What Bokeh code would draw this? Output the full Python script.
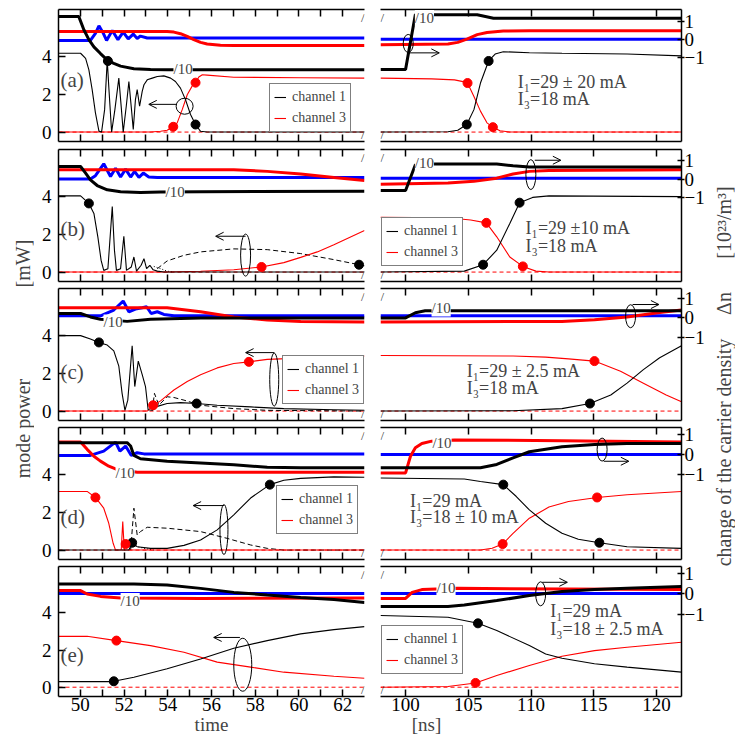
import math
from bokeh.plotting import figure
from bokeh.models import (Range1d, LinearAxis, FixedTicker, Label, Legend, LegendItem,
                          Arrow, OpenHead, CustomJSTickFormatter)
from bokeh.layouts import row, column
from bokeh.embed import file_html
from bokeh.resources import INLINE

FONT = "Liberation Serif"
BLACK, RED, BLUE = "#000000", "#ff0000", "#0000ff"

# ---------------- data (time [ns], value) ----------------
# ch1 / ch3: mode power [mW] (left axis); n1/n2/n3: carrier density change (right axis)
A_L_CH1 = [(49,4.18),(50.01,4.18),(50.24,3.91),(50.39,3.3),(50.54,2.25),(50.69,1.02),(50.85,0.05),(50.97,0),
           (51.11,1.19),(51.23,3.82),(51.30,2.42),(51.43,0),(51.58,1.19),(51.76,2.86),(51.88,1.19),(51.96,0),
           (52.10,1.37),(52.22,2.68),(52.34,1.19),(52.42,0.14),(52.52,1.72),(52.60,2.25),(52.71,1.37),(52.83,2.16),
           (52.91,2.51),(53.06,2.77),(53.29,2.86),(53.52,2.95),(53.82,2.98),(54.13,2.86),(54.35,2.68),(54.58,2.33),
           (54.81,1.72),(55.04,0.93),(55.27,0.40),(55.50,0.04),(55.80,0),(63,0)]
A_L_CH3 = [(49,0),(53.21,0),(53.67,0.04),(53.97,0.1),(54.25,0.28),(54.43,0.49),(54.66,1.19),(54.89,1.98),
           (55.12,2.45),(55.27,2.62),(55.42,2.92),(55.58,3.04),(55.80,3.02),(57.02,2.91),(60.08,2.88),(63,2.86)]
A_L_DOT1 = [(51.26,3.77),(55.27,0.40)]
A_L_DOT3 = [(54.25,0.28),(55.27,2.62)]
A_L_N1 = [(49,1.28),(49.93,1.28),(50.16,0.55),(50.39,0.0),(50.62,-0.40),(50.92,-0.77),(51.26,-1.16),(51.53,-1.32),
          (51.84,-1.47),(52.45,-1.61),(53.21,-1.65),(53.97,-1.67),(63,-1.67)]
A_L_N2 = [(49,-0.04),(50.46,-0.04),(50.69,0.35),(50.85,0.77),(51.03,0.4),(51.20,-0.04),(51.46,0.51),(51.72,0.0),
          (51.96,0.42),(52.19,0.04),(52.42,0.31),(52.60,0.07),(52.75,0.2),(53.06,0.09),(63,0.09)]
A_L_N3 = [(49,0.46),(53.97,0.46),(54.28,0.42),(54.58,0.33),(54.89,0.18),(55.19,0.0),(55.50,-0.15),(55.80,-0.24),
          (56.41,-0.31),(57.02,-0.33),(63,-0.33)]

A_R_CH1 = [(98,0),(103.38,0.02),(104.16,0.1),(104.88,0.4),(105.45,1.19),(105.97,2.6),(106.62,3.77),(107.14,4.14),
           (107.79,4.26),(109.87,4.21),(112.47,4.18),(117.66,4.14),(122,4.04)]
A_R_CH3 = [(98,2.86),(102.08,2.82),(103.90,2.77),(104.68,2.66),(104.94,2.6),(105.45,1.89),(105.97,1.11),
           (106.49,0.49),(106.96,0.26),(107.53,0.07),(108.31,0),(122,0)]
A_R_DOT1 = [(104.88,0.4),(106.62,3.77)]
A_R_DOT3 = [(104.94,2.6),(106.96,0.26)]
A_R_N1 = [(98,-1.65),(100,-1.65),(100.78,1.4),(102.47,1.38),(105.71,1.38),(107.01,1.19),(122,1.19)]
A_R_N2 = [(98,0.02),(122,0.02)]
A_R_N3 = [(98,-0.28),(103.38,-0.24),(104.16,-0.15),(104.94,0.04),(105.71,0.28),(106.49,0.40),(107.79,0.48),
          (109.87,0.5),(122,0.5)]

B_L_CH1 = [(49,4.04),(50.01,4.04),(50.39,3.64),(50.62,3.11),(50.80,1.87),(50.95,0.62),(51.07,0.09),(51.26,0.18),
           (51.46,3.47),(51.56,1.16),(51.65,0.09),(51.84,0.18),(51.99,1.9),(52.11,0.09),(52.33,0.27),(52.45,0.8),
           (52.57,0.05),(52.78,0.36),(52.91,0.71),(53.03,0.18),(53.18,0.36),(53.33,0.12),(53.52,0.05),(53.82,0),(63,0)]
B_L_CH1D = [(53.52,0.18),(53.97,0.59),(54.74,0.89),(55.50,1.07),(57.02,1.23),(58.55,1.19),(60.08,0.98),
            (61.60,0.66),(62.75,0.39),(63,0.34)]
B_L_CH1O = [(53.36,0.3),(53.67,0.18),(53.97,0.05),(54.28,0)]
B_L_CH3 = [(49,0),(53.97,0),(55.50,0.04),(57.02,0.12),(58.29,0.27),(59.31,0.5),(60.08,0.78),(60.84,1.07),
           (61.60,1.45),(63,2.2)]
B_L_DOT1 = [(50.39,3.64),(62.75,0.39)]
B_L_DOT3 = [(58.29,0.27)]
B_L_N1 = [(49,0.67),(50.01,0.67),(50.24,0.32),(50.46,-0.04),(50.77,-0.34),(51.23,-0.57),(51.84,-0.67),
          (52.75,-0.71),(53.67,-0.69),(55.50,-0.67),(63,-0.65)]
B_L_N2 = [(49,0),(50.46,0),(50.69,0.18),(51.07,0.81),(51.38,0.14),(51.61,0.58),(51.84,0.11),(52.07,0.53),
          (52.30,0.11),(52.48,0.41),(52.68,0.09),(52.88,0.32),(53.13,0.11),(53.52,0.09),(63,0.09)]
B_L_N3 = [(49,0.5),(57.02,0.5),(58.55,0.41),(60.08,0.27),(61.60,0.09),(63,-0.07)]

B_R_CH1 = [(98,0),(104.68,0.05),(106.18,0.39),(107.27,1.16),(108.31,2.58),(109.09,3.68),(110.13,3.96),
           (111.43,4.04),(122,4.0)]
B_R_CH3 = [(98,2.9),(103.38,2.88),(105.19,2.76),(106.44,2.61),(107.27,1.87),(108.31,0.8),(109.35,0.3),
           (110.39,0.05),(111.43,0),(122,0)]
B_R_DOT1 = [(106.18,0.39),(109.09,3.68)]
B_R_DOT3 = [(106.44,2.61),(109.35,0.3)]
B_R_N1 = [(98,-0.6),(100,-0.6),(100.78,0.76),(102.34,0.8),(107.27,0.8),(108.57,0.71),(109.87,0.64),(122,0.64)]
B_R_N2 = [(98,0.05),(122,0.05)]
B_R_N3 = [(98,-0.27),(103.38,-0.21),(105.45,-0.12),(107.27,0.05),(108.57,0.27),(109.87,0.41),(111.43,0.46),(122,0.5)]

C_L_CH1 = [(49,4),(50.01,4),(50.46,3.82),(50.85,3.64),(51.23,3.5),(51.53,3.19),(51.76,2.38),(51.91,0.94),
           (52.04,0.04),(52.17,0.58),(52.37,3.46),(52.49,1.3),(52.65,2.65),(52.83,1.93),(52.98,1.3),(53.10,0.07),
           (53.29,0.04),(53.52,0.25),(53.97,0.4),(54.58,0.45),(55.32,0.4),(56.26,0.31),(57.79,0.22),(59.31,0.13),
           (61.60,0.07),(63,0.04)]
C_L_CH1D = [(53.29,0.04),(53.39,0.94),(53.59,0.31),(53.97,0.76),(54.28,0.72),(54.74,0.58),(55.50,0.31),
            (57.02,0.13),(58.55,0.04),(63,0)]
C_L_CH3 = [(49,0),(53.06,0),(53.33,0.31),(53.67,0.54),(54.28,1.12),(54.89,1.57),(55.50,1.93),(56.26,2.29),
           (57.02,2.52),(57.71,2.61),(58.55,2.74),(60.08,2.81),(61.60,2.86),(63,2.92)]
C_L_DOT1 = [(50.85,3.64),(55.32,0.4)]
C_L_DOT3 = [(53.33,0.31),(57.71,2.61)]
C_L_N1 = [(49,0.23),(50.01,0.23),(50.46,0.05),(50.92,-0.07),(52.14,-0.18),(53.21,-0.07),(55.50,0),(63,0)]
C_L_N2 = [(49,0.11),(50.92,0.11),(51.53,0.41),(51.96,0.88),(52.22,0.32),(52.52,0.46),(52.83,0.53),(53.03,0.58),
          (53.24,0.23),(53.52,0.32),(53.82,0.18),(54.28,0.11),(63,0.11)]
C_L_N3 = [(49,0.53),(53.97,0.53),(55.50,0.32),(57.02,0.05),(58.55,-0.11),(60.08,-0.18),(63,-0.21)]

C_R_CH1 = [(98,0),(108.57,0.02),(112.47,0.13),(114.70,0.4),(116.36,0.85),(117.66,1.48),(118.96,2.2),
           (120.26,2.83),(122,3.46)]
C_R_CH3 = [(98,2.95),(108.57,2.92),(111.17,2.86),(112.99,2.77),(115.06,2.65),(117.14,2.11),(118.96,1.48),
           (120.78,0.85),(122,0.49)]
C_R_DOT1 = [(114.70,0.4)]
C_R_DOT3 = [(115.06,2.65)]
C_R_N1 = [(98,0),(100,0),(100.78,0.27),(101.56,0.37),(122,0.37)]
C_R_N2 = [(98,0.11),(122,0.11)]
C_R_N3 = [(98,-0.21),(112.47,-0.18),(115.06,-0.09),(117.66,0.05),(120.26,0.28),(122,0.41)]

D_L_CH1 = [(49,0),(52.22,0),(52.37,0.39),(52.60,0.18),(53.21,0.09),(53.97,0.09),(54.74,0.25),(55.50,0.53),
           (56.26,1.07),(57.02,1.87),(57.79,2.76),(58.67,3.47),(59.31,3.7),(60.08,3.8),(61.60,3.88),(63,3.86)]
D_L_CH1D = [(52.30,0),(52.45,2.22),(52.60,0.8),(52.75,0.98),(53.06,1.21),(53.97,1.16),(55.50,0.98),(56.72,0.62),
            (57.79,0.27),(58.55,0.09),(59.31,0),(63,0)]
D_L_CH1O = [(52.52,0.21),(52.91,0.09),(53.36,0)]
D_L_CH3 = [(49,3.11),(50.31,3.11),(50.69,2.79),(51.07,2.22),(51.30,1.42),(51.50,0.36),(51.61,0),(51.87,0),
           (51.94,1.51),(52.01,0),(52.14,0),(63,0)]
D_L_DOT1 = [(52.37,0.39),(58.67,3.47)]
D_L_DOT3 = [(50.69,2.79),(52.07,0.32)]
D_L_N1 = [(49,0.6),(52.14,0.6),(52.30,0.43),(52.45,-0.05),(52.75,-0.22),(53.97,-0.34),(55.50,-0.43),
          (57.02,-0.53),(58.55,-0.65),(60.08,-0.68),(63,-0.68)]
D_L_N2 = [(49,-0.05),(50.46,-0.05),(51.07,0.17),(51.61,0.63),(51.81,0.17),(52.07,0.43),(52.33,-0.05),
          (52.60,0.09),(52.91,0.03),(63,0.03)]
D_L_N3 = [(49,0.63),(50.01,0.63),(50.31,0.26),(50.62,-0.09),(50.92,-0.34),(51.30,-0.6),(51.61,-0.74),
          (52.60,-0.91),(63,-0.91)]

D_R_CH1 = [(98,3.82),(104.68,3.77),(105.97,3.64),(107.79,3.47),(108.83,2.84),(109.87,2.13),(111.17,1.42),
           (112.47,0.89),(113.77,0.57),(115.45,0.39),(117.66,0.18),(122,0.09)]
D_R_CH3 = [(98,0),(105.97,0),(106.9,0.1),(107.74,0.32),(108.57,0.89),(109.87,1.69),(111.43,2.28),(112.99,2.58),
           (115.27,2.79),(117.66,2.93),(122,3.11)]
D_R_DOT1 = [(107.79,3.47),(115.45,0.39)]
D_R_DOT3 = [(107.74,0.32),(115.27,2.79)]
D_R_N1 = [(98,-0.68),(105.97,-0.68),(107.27,-0.51),(108.57,-0.17),(109.87,0.14),(112.47,0.39),(115.06,0.51),
          (117.66,0.56),(122,0.56)]
D_R_N2 = [(98,0),(122,0)]
D_R_N3 = [(98,-0.94),(100,-0.94),(100.39,-0.09),(100.78,0.34),(101.30,0.56),(102.08,0.68),(103.90,0.74),
          (112.47,0.7),(122,0.63)]

E_L_CH1 = [(49,0.3),(51.38,0.3),(51.53,0.32),(52.45,0.54),(53.97,0.99),(55.50,1.52),(57.02,2.1),(58.55,2.51),
           (60.08,2.87),(61.60,3.1),(63,3.26)]
E_L_CH3 = [(49,2.74),(50.31,2.74),(51.65,2.51),(53.21,2.24),(54.74,1.88),(56.26,1.35),(57.79,1.08),(59.31,0.81),
           (61.60,0.59),(63,0.48)]
E_L_DOT1 = [(51.53,0.32)]
E_L_DOT3 = [(51.65,2.51)]
E_L_N1 = [(49,0.5),(52.45,0.5),(53.97,0.45),(55.50,0.28),(57.02,0.08),(58.55,-0.05),(60.08,-0.17),(61.60,-0.28),
          (63,-0.42)]
E_L_N2 = [(49,0.03),(63,0.03)]
E_L_N3 = [(49,0.17),(50.01,0.17),(50.31,0),(50.92,-0.12),(51.84,-0.2),(55.50,-0.22),(63,-0.2)]

E_R_CH1 = [(98,3.86),(103.38,3.77),(105.77,3.44),(107.27,3.05),(109.87,2.24),(111.17,1.79),(112.47,1.56),
           (115.06,1.26),(117.66,1.08),(122,0.81)]
E_R_CH3 = [(98,0),(103.38,0.04),(105.58,0.23),(107.27,0.63),(109.87,1.17),(112.47,1.67),(115.06,1.97),
           (117.66,2.15),(122,2.42)]
E_R_DOT1 = [(105.77,3.44)]
E_R_DOT3 = [(105.58,0.23)]
E_R_N1 = [(98,-0.62),(103.38,-0.62),(104.68,-0.55),(107.27,-0.33),(109.87,-0.08),(112.47,0.12),(115.06,0.22),
          (117.66,0.28),(122,0.37)]
E_R_N2 = [(98,0.03),(122,0.03)]
E_R_N3 = [(98,-0.22),(100,-0.22),(100.52,0.08),(101.30,0.22),(104.16,0.28),(122,0.22)]

ZERO_L = [(49,0),(63,0)]
ZERO_R = [(98,0),(122,0)]

X_TICKS_L = [50, 52, 54, 56, 58, 60, 62]
X_MINOR_L = [51, 53, 55, 57, 59, 61]
X_TICKS_R = [100, 105, 110, 115, 120]
Y_TICKS_L = [0, 2, 4]
Y_TICKS_R = [-1, 0, 1]

CURRENTS = {
    "a": ("I\u2081=29 \u00b1 20 mA", "I\u2083=18 mA"),
    "b": ("I\u2081=29 \u00b110 mA", "I\u2083=18 mA"),
    "c": ("I\u2081=29 \u00b1 2.5 mA", "I\u2083=18 mA"),
    "d": ("I\u2081=29 mA", "I\u2083=18 \u00b1 10 mA"),
    "e": ("I\u2081=29 mA", "I\u2083=18 \u00b1 2.5 mA"),
}

# ---------------- tables built from the arrays ----------------
SERIES = {
    ("a", "L"): dict(ch1=A_L_CH1, ch3=A_L_CH3, dot1=A_L_DOT1, dot3=A_L_DOT3, n1=A_L_N1, n2=A_L_N2, n3=A_L_N3),
    ("a", "R"): dict(ch1=A_R_CH1, ch3=A_R_CH3, dot1=A_R_DOT1, dot3=A_R_DOT3, n1=A_R_N1, n2=A_R_N2, n3=A_R_N3),
    ("b", "L"): dict(ch1=B_L_CH1, ch1d=B_L_CH1D, ch1o=B_L_CH1O, ch3=B_L_CH3, dot1=B_L_DOT1, dot3=B_L_DOT3,
                     n1=B_L_N1, n2=B_L_N2, n3=B_L_N3),
    ("b", "R"): dict(ch1=B_R_CH1, ch3=B_R_CH3, dot1=B_R_DOT1, dot3=B_R_DOT3, n1=B_R_N1, n2=B_R_N2, n3=B_R_N3),
    ("c", "L"): dict(ch1=C_L_CH1, ch1d=C_L_CH1D, ch3=C_L_CH3, dot1=C_L_DOT1, dot3=C_L_DOT3,
                     n1=C_L_N1, n2=C_L_N2, n3=C_L_N3),
    ("c", "R"): dict(ch1=C_R_CH1, ch3=C_R_CH3, dot1=C_R_DOT1, dot3=C_R_DOT3, n1=C_R_N1, n2=C_R_N2, n3=C_R_N3),
    ("d", "L"): dict(ch1=D_L_CH1, ch1d=D_L_CH1D, ch1o=D_L_CH1O, ch3=D_L_CH3, dot1=D_L_DOT1, dot3=D_L_DOT3,
                     n1=D_L_N1, n2=D_L_N2, n3=D_L_N3),
    ("d", "R"): dict(ch1=D_R_CH1, ch3=D_R_CH3, dot1=D_R_DOT1, dot3=D_R_DOT3, n1=D_R_N1, n2=D_R_N2, n3=D_R_N3),
    ("e", "L"): dict(ch1=E_L_CH1, ch3=E_L_CH3, dot1=E_L_DOT1, dot3=E_L_DOT3, n1=E_L_N1, n2=E_L_N2, n3=E_L_N3),
    ("e", "R"): dict(ch1=E_R_CH1, ch3=E_R_CH3, dot1=E_R_DOT1, dot3=E_R_DOT3, n1=E_R_N1, n2=E_R_N2, n3=E_R_N3),
}

# right-axis mapping per panel: left value of dn=0, left units per dn unit
DN_MAP = {"a": (4.9, 0.955), "b": (4.93, 1.0), "c": (4.94, 1.02), "d": (5.07, 1.04), "e": (5.02, 1.08)}

# layout / decoration positions
ELLIPSES = {("a","L"): (54.77,1.37,17,16), ("a","R"): (100.21,4.7,10,18),
            ("b","L"): (57.56,0.9,10,42), ("b","R"): (109.99,5.17,10,30),
            ("c","L"): (58.87,1.67,9,53), ("c","R"): (117.94,5.03,10,23),
            ("d","L"): (56.57,1.09,8,50), ("d","R"): (115.67,5.33,10,23),
            ("e","L"): (57.43,1.21,18,53), ("e","R"): (110.77,5.03,10,24)}
ARROWS = {("a","L"): (54.4,1.47,53.13,1.47), ("a","R"): (100.35,4.2,102.69,4.2),
          ("b","L"): (57.56,1.9,56.19,1.9), ("b","R"): (110.3,5.93,112.38,5.93),
          ("c","L"): (58.87,3.1,57.56,3.1), ("c","R"): (118.1,5.65,120.2,5.65),
          ("d","L"): (56.57,2.36,55.16,2.36), ("d","R"): (115.8,4.71,117.8,4.71),
          ("e","L"): (57.3,2.68,56.1,2.68), ("e","R"): (110.9,5.65,112.9,5.65)}
DIV10 = {("a","L"): (54.26,3.32), ("a","R"): (100.74,6.05), ("b","L"): (53.9,4.22), ("b","R"): (100.74,5.76),
         ("c","L"): (51.06,4.7), ("c","R"): (102.07,5.44), ("d","L"): (51.61,4.11), ("d","R"): (102.14,5.7),
         ("e","L"): (51.84,4.64), ("e","R"): (102.46,5.33)}
TEXT_POS = {"a": (108.95,2.63,1.73), "b": (109.57,2.36,1.36), "c": (104.88,2.1,1.25),
            "d": (100.35,2.58,1.73), "e": (111.53,4.11,3.16)}
TAG_Y = {"a": 2.75, "b": 2.26, "c": 2.06, "d": 1.78, "e": 1.74}
LEGEND_POS = {("a","L"): (211, 9), ("b","R"): (1, 15), ("c","L"): (224, 16), ("d","L"): (218, 25),
              ("e","R"): (1, 22)}

ROW_TOP = [9, 4, 4, 4, 4]
ROW_BOT = [4, 3, 3, 3, 39]
FRAME_H = 132


def xs(pts):
    return [p[0] for p in pts]


def ys(pts):
    return [p[1] for p in pts]


def style_axis(ax, labels, tin=7, tout=0):
    ax.axis_line_width = 1.5
    ax.axis_line_color = "black"
    ax.major_tick_line_width = 1.5
    ax.minor_tick_line_width = 1.5
    ax.major_tick_line_color = "black"
    ax.minor_tick_line_color = "black"
    ax.major_tick_in = tin
    ax.major_tick_out = tout
    ax.minor_tick_in = tin
    ax.minor_tick_out = tout
    ax.major_label_text_font = FONT
    ax.major_label_text_font_size = "19px"
    ax.major_label_text_color = "black"
    if not labels:
        ax.formatter = CustomJSTickFormatter(code="return ''")
        ax.major_label_standoff = 0


def make_panel(key, side, ri):
    top, bot = ROW_TOP[ri], ROW_BOT[ri]
    if side == "L":
        bl, fw, br = 24, 306, 4
        xr = Range1d(49, 63)
        xt = FixedTicker(ticks=X_TICKS_L, minor_ticks=X_MINOR_L)
    else:
        bl, fw, br = 12, 307, 20
        xr = Range1d(98, 122)
        xt = FixedTicker(ticks=X_TICKS_R)
    c, s = DN_MAP[key]
    p = figure(width=bl + fw + br, height=top + FRAME_H + bot, x_range=xr, y_range=Range1d(-0.5, 6.5),
               x_axis_type=None, y_axis_type=None, output_backend="svg", toolbar_location=None, tools="",
               min_border_left=bl, min_border_right=br, min_border_top=top, min_border_bottom=bot)
    p.extra_y_ranges = {"dn": Range1d((-0.5 - c) / s, (6.5 - c) / s)}
    p.outline_line_color = None
    p.background_fill_color = "white"
    p.border_fill_color = "white"

    bx = LinearAxis(ticker=xt)
    style_axis(bx, ri == 4)
    if ri == 4:
        bx.major_label_standoff = 1
        bx.axis_label_text_font = FONT
        bx.axis_label_text_font_size = "19px"
        bx.axis_label_text_font_style = "normal"
        bx.axis_label_standoff = 0
        if side == "L":
            bx.axis_label = "time"
        else:
            bx.axis_label = "[ns]" + "\u00a0" * 44
    p.add_layout(bx, "below")
    tx = LinearAxis(ticker=FixedTicker(ticks=xt.ticks, minor_ticks=xt.minor_ticks))
    style_axis(tx, False)
    p.add_layout(tx, "above")
    if side == "L":
        ya = LinearAxis(ticker=FixedTicker(ticks=Y_TICKS_L))
        style_axis(ya, True, tin=7, tout=0)
        ya.major_label_standoff = 7
        p.add_layout(ya, "left")
    else:
        ya = LinearAxis(y_range_name="dn", ticker=FixedTicker(ticks=Y_TICKS_R))
        style_axis(ya, True, tin=4, tout=3)
        ya.major_label_standoff = 0
        p.add_layout(ya, "right")

    d = SERIES[(key, side)]
    zero = ZERO_L if side == "L" else ZERO_R
    p.line(xs(zero), ys(zero), line_color=RED, line_dash="4 3", line_width=1)
    if "ch1o" in d:
        p.line(xs(d["ch1o"]), ys(d["ch1o"]), line_color=BLACK, line_dash="1 2", line_width=1)
    if "ch1d" in d:
        p.line(xs(d["ch1d"]), ys(d["ch1d"]), line_color=BLACK, line_dash="5 3", line_width=1)
    r3 = p.line(xs(d["ch3"]), ys(d["ch3"]), line_color=RED, line_width=1.1)
    r1 = p.line(xs(d["ch1"]), ys(d["ch1"]), line_color=BLACK, line_width=1.1)
    for name, col in (("n2", BLUE), ("n3", RED), ("n1", BLACK)):
        p.line(xs(d[name]), ys(d[name]), line_color=col, line_width=3, y_range_name="dn")
    p.scatter(xs(d["dot1"]), ys(d["dot1"]), size=9, color=BLACK)
    p.scatter(xs(d["dot3"]), ys(d["dot3"]), size=9, color=RED)

    ex, ey, ew, eh = ELLIPSES[(key, side)]
    p.ellipse(x=[ex], y=[ey], width=[ew], height=[eh], width_units="screen", height_units="screen",
              fill_color=None, line_color=BLACK, line_width=1)
    ax0, ay0, ax1, ay1 = ARROWS[(key, side)]
    p.add_layout(Arrow(end=OpenHead(size=8, line_width=1, line_color=BLACK), x_start=ax0, y_start=ay0,
                       x_end=ax1, y_end=ay1, line_width=1, line_color=BLACK))

    dx, dy = DIV10[(key, side)]
    p.add_layout(Label(x=dx, y=dy, text="/10", text_font=FONT, text_font_size="15px", text_align="left",
                       text_baseline="middle", background_fill_color="white"))

    if (key, side) in LEGEND_POS:
        leg = Legend(items=[LegendItem(label="channel 1", renderers=[r1]),
                            LegendItem(label="channel 3", renderers=[r3])],
                     location=LEGEND_POS[(key, side)], label_text_font=FONT, label_text_font_size="14px",
                     border_line_color=BLACK, border_line_width=1, padding=4, spacing=3, margin=0,
                     glyph_width=12, glyph_height=18, label_height=18, label_standoff=6,
                     background_fill_color="white", background_fill_alpha=1.0)
        p.add_layout(leg)

    if side == "L":
        p.add_layout(Label(x=49.09, y=TAG_Y[key], text="(%s)" % key, text_font=FONT, text_font_size="21px",
                           text_align="left", text_baseline="middle"))
        p.add_layout(Label(x=63, y=6.5, text="/", text_font=FONT, text_font_size="13px",
                           text_align="right", text_baseline="top"))
        p.add_layout(Label(x=63, y=-0.5, text="/", text_font=FONT, text_font_size="13px",
                           text_align="right", text_baseline="bottom"))
    else:
        tx0, ty1, ty2 = TEXT_POS[key]
        t1, t2 = CURRENTS[key]
        p.add_layout(Label(x=tx0, y=ty1, text=t1, text_font=FONT, text_font_size="18px",
                           text_align="left", text_baseline="middle"))
        p.add_layout(Label(x=tx0, y=ty2, text=t2, text_font=FONT, text_font_size="18px",
                           text_align="left", text_baseline="middle"))
        p.add_layout(Label(x=98, y=6.5, text="/", text_font=FONT, text_font_size="13px",
                           text_align="left", text_baseline="top"))
        p.add_layout(Label(x=98, y=-0.5, text="/", text_font=FONT, text_font_size="13px",
                           text_align="left", text_baseline="bottom"))
    return p


TOTAL_H = sum(ROW_TOP) + sum(ROW_BOT) + 5 * FRAME_H


def label_fig(w, texts):
    p = figure(width=w, height=TOTAL_H, x_range=Range1d(0, w), y_range=Range1d(TOTAL_H, 0), x_axis_type=None,
               y_axis_type=None, output_backend="svg", toolbar_location=None, tools="",
               min_border_left=0, min_border_right=0, min_border_top=0, min_border_bottom=0)
    p.outline_line_color = None
    p.background_fill_color = "white"
    p.border_fill_color = "white"
    for t, x, y in texts:
        p.add_layout(Label(x=x, y=y, text=t, angle=math.pi / 2, text_align="center", text_baseline="middle",
                           text_font=FONT, text_font_size="20px"))
    return p


left_lab = label_fig(34, [("[mW]", 22, 263), ("mode power", 22, 428)])
right_lab = label_fig(28, [("[10\u00b2\u00b3/m\u00b3]", 16, 222), ("\u0394n", 16, 303),
                           ("change of the carrier density", 16, 452)])

rows = []
for ri, key in enumerate("abcde"):
    rows.append(row(make_panel(key, "L", ri), make_panel(key, "R", ri)))

layout = row(left_lab, column(*rows), right_lab)

with open("out.html", "w") as f:
    f.write(file_html(layout, INLINE))
